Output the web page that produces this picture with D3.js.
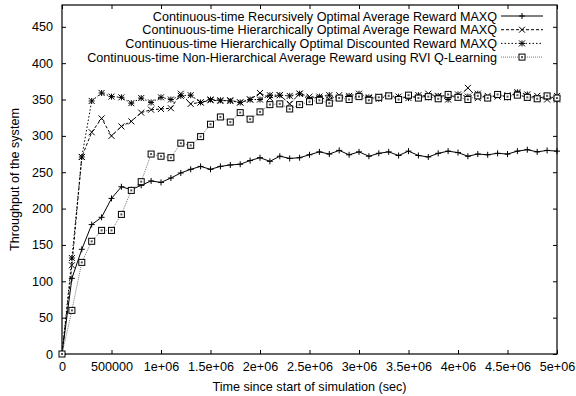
<html>
  <head>
    <meta charset="UTF-8">
    <script src="https://d3js.org/d3.v7.min.js"></script>
    <style type="text/css">
    body { margin: 0; font-family: 'Liberation Sans', Arial, sans-serif; background: #fff; }
    </style>
  </head>
  <body>
  </body>
  <script>
    // time in steps of 100000 sec, 0 .. 5e6
    var times = d3.range(0, 51).map(function(i) { return i * 100000; });

    var recursiveAvg = [0,104,144,178,188,214,230,226,232,238,236,242,249,254,258,254,258,260,261,266,270,265,272,269,270,274,278,275,280,274,278,272,276,278,273,279,273,271,276,279,277,272,275,274,276,275,279,281,278,280,279];
    var hierAvg = [0,122,271,305,324,300,313,320,332,336,337,338,358,344,346,349,348,349,346,350,359,352,356,344,358,354,352,350,356,353,355,352,354,356,350,355,352,358,354,356,353,366,352,355,354,356,358,352,355,350,355];
    var hierDisc = [0,132,271,348,359,354,353,345,352,346,353,350,355,356,346,350,349,348,346,350,350,356,356,355,358,350,354,356,352,355,358,353,351,355,354,352,356,353,355,350,357,354,358,352,356,353,360,357,352,354,350];
    var rviQ = [0,60,126,155,170,170,192,225,237,275,272,270,290,287,299,316,326,319,332,323,333,343,344,337,343,347,349,345,352,350,354,349,353,355,350,356,352,354,351,357,353,350,355,352,357,354,356,353,351,355,352];

    var xTicks = [0,500000,1000000,1500000,2000000,2500000,3000000,3500000,4000000,4500000,5000000];
    var xTickLabels = ["0","500000","1e+06","1.5e+06","2e+06","2.5e+06","3e+06","3.5e+06","4e+06","4.5e+06","5e+06"];
    var yTicks = [0,50,100,150,200,250,300,350,400,450];

    var series = [
      {name: "Continuous-time Recursively Optimal Average Reward MAXQ", values: recursiveAvg, dash: null, color: "#000", marker: "plus"},
      {name: "Continuous-time Hierarchically Optimal Average Reward MAXQ", values: hierAvg, dash: "3,2", color: "#000", marker: "cross"},
      {name: "Continuous-time Hierarchically Optimal Discounted Reward MAXQ", values: hierDisc, dash: "1.5,2", color: "#000", marker: "star"},
      {name: "Continuous-time Non-Hierarchical Average Reward using RVI Q-Learning", values: rviQ, dash: "1,1", color: "#777", marker: "box"}
    ];

    var W = 576, H = 396;
    var margin = {top: 5, right: 19, bottom: 42, left: 62};
    var width = W - margin.left - margin.right,
        height = H - margin.top - margin.bottom;
    var fs = "12.6px";

    var svg = d3.select("body").append("svg")
      .attr("width", W).attr("height", H);
    var g = svg.append("g")
      .attr("transform", "translate(" + margin.left + "," + margin.top + ")");

    var x = d3.scaleLinear().domain([0, 5000000]).range([0, width]);
    var y = d3.scaleLinear().domain([0, 480]).range([height, 0]);

    // inward ticks on all four sides, like gnuplot
    var tl = 4;
    g.append("g").attr("transform", "translate(0," + height + ")")
      .call(d3.axisBottom(x).tickValues(xTicks).tickSizeInner(-tl).tickSizeOuter(0)
        .tickPadding(8).tickFormat(function(d, i) { return xTickLabels[i]; }));
    g.append("g").call(d3.axisTop(x).tickValues(xTicks).tickSizeInner(-tl).tickSizeOuter(0).tickFormat(""));
    g.append("g")
      .call(d3.axisLeft(y).tickValues(yTicks).tickSizeInner(-tl).tickSizeOuter(0).tickPadding(9));
    g.append("g").attr("transform", "translate(" + width + ",0)")
      .call(d3.axisRight(y).tickValues(yTicks).tickSizeInner(-tl).tickSizeOuter(0).tickFormat(""));
    g.selectAll(".domain").remove();
    g.selectAll(".tick line").attr("stroke", "#000");
    g.selectAll(".tick text").attr("fill", "#000")
      .style("font-family", "'Liberation Sans', Arial, sans-serif").style("font-size", fs);

    g.append("rect")
      .attr("width", width).attr("height", height)
      .attr("fill", "none").attr("stroke", "#000").attr("stroke-width", 1.2);

    function drawMarker(sel, type, color) {
      var s = 3;
      if (type == "plus" || type == "star") {
        sel.append("path").attr("d", "M" + (-s) + ",0H" + s + "M0," + (-s) + "V" + s)
          .attr("stroke", color).attr("fill", "none");
      }
      if (type == "cross" || type == "star") {
        sel.append("path").attr("d", "M" + (-s) + "," + (-s) + "L" + s + "," + s + "M" + (-s) + "," + s + "L" + s + "," + (-s))
          .attr("stroke", color).attr("fill", "none");
      }
      if (type == "box") {
        sel.append("rect").attr("x", -3).attr("y", -3).attr("width", 6).attr("height", 6)
          .attr("stroke", "#000").attr("fill", "#fff");
        sel.append("rect").attr("x", -1).attr("y", -1).attr("width", 2).attr("height", 2)
          .attr("fill", "#555");
      }
    }

    var line = d3.line()
      .x(function(d, i) { return x(times[i]); })
      .y(function(d) { return y(d); });

    series.forEach(function(s) {
      var p = g.append("path").datum(s.values)
        .attr("fill", "none")
        .attr("stroke", s.color)
        .attr("stroke-width", 1)
        .attr("d", line);
      if (s.dash) p.attr("stroke-dasharray", s.dash);
      g.append("g").selectAll("g").data(s.values).enter().append("g")
        .attr("transform", function(d, i) { return "translate(" + x(times[i]) + "," + y(d) + ")"; })
        .each(function() { drawMarker(d3.select(this), s.marker, "#000"); });
    });

    // legend
    var legend = svg.append("g");
    series.forEach(function(s, i) {
      var ly = 16 + i * 13.7;
      legend.append("text")
        .attr("x", 497).attr("y", ly + 4.5)
        .attr("text-anchor", "end")
        .style("font-size", fs)
        .text(s.name);
      var l = legend.append("line")
        .attr("x1", 501).attr("x2", 543).attr("y1", ly).attr("y2", ly)
        .attr("stroke", s.color).attr("stroke-width", 1);
      if (s.dash) l.attr("stroke-dasharray", s.dash);
      var m = legend.append("g").attr("transform", "translate(522," + ly + ")");
      drawMarker(m, s.marker, "#000");
    });

    // axis titles
    svg.append("text")
      .attr("x", margin.left + width / 2).attr("y", 391)
      .attr("text-anchor", "middle").style("font-size", fs)
      .text("Time since start of simulation (sec)");
    svg.append("text")
      .attr("transform", "translate(19," + (margin.top + height / 2) + ") rotate(-90)")
      .attr("text-anchor", "middle").style("font-size", fs)
      .text("Throughput of the system");
  </script>
</html>
